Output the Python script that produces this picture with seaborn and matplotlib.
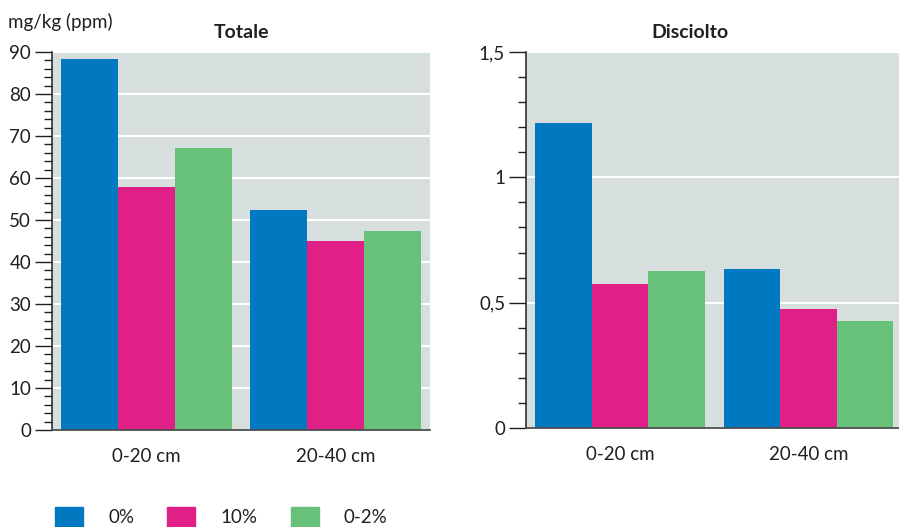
import pandas as pd
import matplotlib
matplotlib.use('Agg')
import matplotlib.pyplot as plt
import matplotlib.patches as mpatches
from matplotlib.ticker import MultipleLocator, FuncFormatter
import seaborn as sns

# dati
categories = ['0-20 cm', '20-40 cm']
treatments = ['0%', '10%', '0-2%']
totale_0 = [88.3, 52.3]
totale_10 = [57.8, 44.9]
totale_02 = [67.1, 47.3]
disciolto_0 = [1.215, 0.635]
disciolto_10 = [0.575, 0.475]
disciolto_02 = [0.625, 0.425]
colors = ['#0079c1', '#e01f87', '#68c178']

text_color = '#231f20'
bg_color = '#d6dfde'


def long_df(values):
    """tabella in formato lungo per seaborn"""
    rows = []
    for tr, vals in zip(treatments, values):
        for cat, v in zip(categories, vals):
            rows.append({'cat': cat, 'tr': tr, 'val': v})
    return pd.DataFrame(rows)


df_tot = long_df([totale_0, totale_10, totale_02])
df_dis = long_df([disciolto_0, disciolto_10, disciolto_02])

sns.set_theme(style='white')
plt.rcParams['font.family'] = ['Lato', 'DejaVu Sans']

fig = plt.figure(figsize=(8.99, 5.27), dpi=100)
ax1 = fig.add_axes([52 / 899, 1 - 430 / 527, 378 / 899, 378 / 527])
ax2 = fig.add_axes([526 / 899, 1 - 428 / 527, 373 / 899, 376 / 527])


def draw(ax, df, ymax, major, minor, fmt, xmax, title, title_x):
    sns.barplot(data=df, x='cat', y='val', hue='tr', order=categories,
                hue_order=treatments, palette=colors, saturation=1,
                width=0.9, gap=0, linewidth=0, legend=False, ax=ax)
    ax.set_facecolor(bg_color)
    ax.set_axisbelow(True)
    ax.set_xlim(-0.5, xmax)
    ax.set_ylim(0, ymax)
    ax.set_xlabel('')
    ax.set_ylabel('')

    # assi e tacche
    ax.yaxis.set_major_locator(MultipleLocator(major))
    ax.yaxis.set_minor_locator(MultipleLocator(minor))
    ax.yaxis.set_major_formatter(FuncFormatter(fmt))
    ax.tick_params(axis='y', which='major', direction='out', length=12,
                   width=1, color=text_color, labelsize=13.5,
                   labelcolor=text_color, pad=3, left=True)
    ax.tick_params(axis='y', which='minor', direction='out', length=6,
                   width=1, color=text_color, left=True)
    ax.tick_params(axis='x', length=0, pad=13, labelsize=13.5,
                   labelcolor=text_color)
    ax.grid(axis='y', which='major', color='white', linewidth=1.5)
    ax.grid(axis='x', visible=False)

    for s in ['top', 'right']:
        ax.spines[s].set_visible(False)
    ax.spines['left'].set_color(text_color)
    ax.spines['left'].set_linewidth(1.1)
    ax.spines['bottom'].set_color('#4d4d4d')
    ax.spines['bottom'].set_linewidth(1.3)

    ax.set_title(title, x=title_x, fontsize=14, fontweight='bold',
                 color=text_color, pad=10)


draw(ax1, df_tot, 90, 10, 2, lambda v, p: f'{v:g}', 1.5, 'Totale', 0.5)
draw(ax2, df_dis, 1.5, 0.5, 0.1, lambda v, p: f'{v:g}'.replace('.', ','),
     1.48, 'Disciolto', 0.44)

fig.text(8 / 899, 1 - 22 / 527, 'mg/kg (ppm)', fontsize=13.5,
         color=text_color, va='center', ha='left')

# legenda in basso
handles = [mpatches.Patch(color=c, label=t) for c, t in zip(colors, treatments)]
fig.legend(handles=handles, loc='center left', ncol=3, frameon=False,
           bbox_to_anchor=(55 / 899, 1 - 517 / 527), borderpad=0,
           borderaxespad=0, fontsize=13.5, handlelength=1.5, handleheight=1.25,
           handletextpad=1.35, columnspacing=1.75, labelcolor=text_color)

plt.savefig('out.png', dpi=100)
